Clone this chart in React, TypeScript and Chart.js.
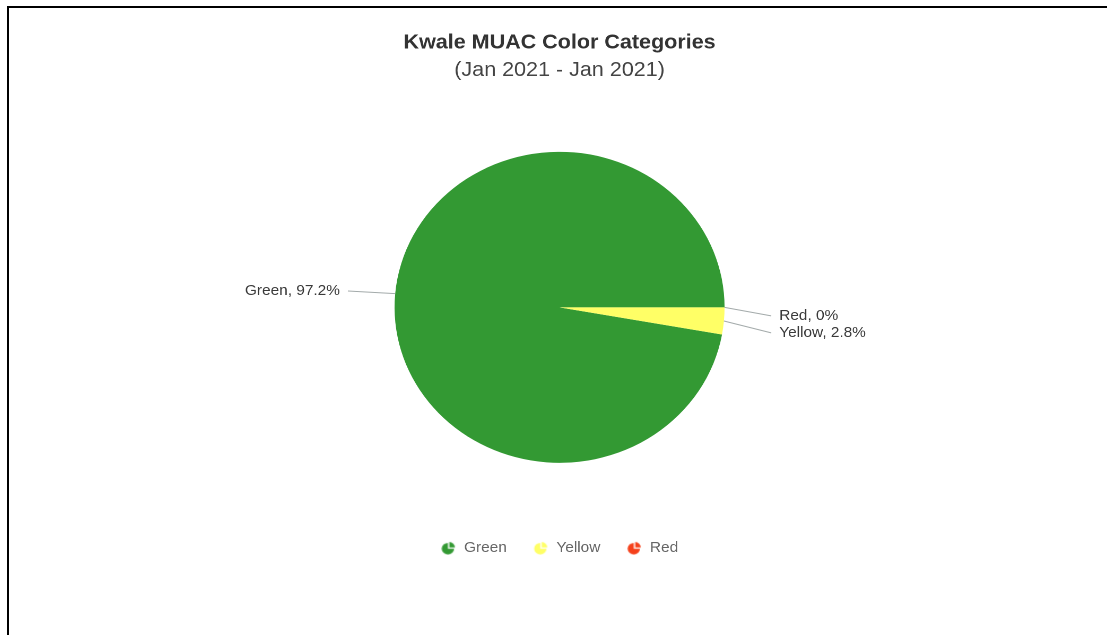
import React, { useEffect, useRef } from "react";
import { Chart, registerables } from "chart.js";

Chart.register(...registerables);

// ---- data ----
const categories: string[] = ["Green", "Red", "Yellow"];
const values: number[] = [97.2, 0, 2.8];
const sliceColors: string[] = ["#339933", "#F5401A", "#FFFF66"];
const legendOrder: string[] = ["Green", "Yellow", "Red"];
const titleText = "Kwale MUAC Color Categories";
const subtitleText = "(Jan 2021 - Jan 2021)";

// ---- presentation ----
const FONT = "'Liberation Sans', Arial, Helvetica, sans-serif";
const SX = 1.0611; // horizontal stretch of the reference picture
const CW = 1000;
const CH = 635;
const LEFT = 560 - (SX * CW) / 2;

function makeIcon(color: string): HTMLCanvasElement {
  const c = document.createElement("canvas");
  c.width = 14;
  c.height = 14;
  const ctx = c.getContext("2d")!;
  ctx.fillStyle = color;
  const cx = 6.3;
  const cy = 7.7;
  const r = 5.8;
  ctx.beginPath();
  ctx.moveTo(cx, cy);
  ctx.arc(cx, cy, r, 0, Math.PI * 1.5);
  ctx.closePath();
  ctx.fill();
  const ox = cx + 1.3;
  const oy = cy - 1.3;
  ctx.beginPath();
  ctx.moveTo(ox, oy);
  ctx.arc(ox, oy, r - 0.5, -Math.PI / 2, 0);
  ctx.closePath();
  ctx.fill();
  return c;
}

const LABEL_DIST = 30;
const CONNECTOR_LEN = 44;
const TEXT_GAP = 7.5;
const LABEL_GAP = 17;

const pieLabels = {
  id: "pieLabels",
  afterDatasetsDraw(chart: any) {
    const meta = chart.getDatasetMeta(0);
    const ctx: CanvasRenderingContext2D = chart.ctx;
    const data = chart.data.datasets[0].data as number[];
    const items = meta.data.map((arc: any, i: number) => {
      const p = arc.getProps(["x", "y", "startAngle", "endAngle", "outerRadius"], true);
      const mid = (p.startAngle + p.endAngle) / 2;
      const R = p.outerRadius;
      return {
        i,
        cx: p.x,
        cy: p.y,
        R,
        right: Math.cos(mid) >= -1e-9,
        ax: p.x + R * Math.cos(mid),
        ay: p.y + R * Math.sin(mid),
        ty: p.y + (R + LABEL_DIST) * Math.sin(mid),
        ly: 0,
        text: `${chart.data.labels[i]}, ${data[i]}%`,
      };
    });
    for (const side of [true, false]) {
      const group = items.filter((it: any) => it.right === side).sort((a: any, b: any) => a.ty - b.ty);
      let overlap = false;
      for (let k = 1; k < group.length; k++) {
        if (group[k].ty - group[k - 1].ty < LABEL_GAP) overlap = true;
      }
      let prev = -Infinity;
      for (const it of group) {
        if (overlap) {
          const y = Math.max(it.ty, prev + LABEL_GAP);
          prev = y;
          it.ly = y + LABEL_GAP / 2;
        } else {
          it.ly = it.ty;
        }
      }
    }
    ctx.save();
    for (const it of items) {
      const dir = it.right ? 1 : -1;
      const ex = it.cx + dir * (it.R + CONNECTOR_LEN);
      ctx.strokeStyle = "#a3aaaa";
      ctx.lineWidth = 1;
      ctx.beginPath();
      ctx.moveTo(it.ax, it.ay);
      ctx.lineTo(ex, it.ly);
      ctx.stroke();
      ctx.fillStyle = "#3a3a3a";
      ctx.font = `14.5px ${FONT}`;
      ctx.textBaseline = "middle";
      ctx.textAlign = it.right ? "left" : "right";
      ctx.fillText(it.text, ex + dir * TEXT_GAP, it.ly);
    }
    ctx.restore();
  },
};

export default function App() {
  const canvasRef = useRef<HTMLCanvasElement | null>(null);

  useEffect(() => {
    if (!canvasRef.current) return;
    const icons = sliceColors.map(makeIcon);
    const ov: any = (Chart as any).overrides;
    const baseGen =
      (ov.pie && ov.pie.plugins && ov.pie.plugins.legend && ov.pie.plugins.legend.labels.generateLabels) ||
      ov.doughnut.plugins.legend.labels.generateLabels;
    const total = values.reduce((a, b) => a + b, 0);
    const yellowIdx = categories.indexOf("Yellow");
    const rotation = 90 + (values[yellowIdx] / total) * 360;

    const chart = new Chart(canvasRef.current, {
      type: "pie",
      data: {
        labels: categories,
        datasets: [
          {
            data: values,
            backgroundColor: sliceColors,
            borderWidth: 0,
          },
        ],
      },
      options: {
        animation: false,
        responsive: false,
        maintainAspectRatio: false,
        devicePixelRatio: 2,
        rotation,
        radius: 155.5,
        layout: { padding: { top: 0, left: 0, right: 0, bottom: 69.75 } },
        events: [],
        plugins: {
          title: {
            display: true,
            text: titleText,
            color: "#333333",
            font: { family: FONT, size: 20.3, weight: "bold" },
            padding: { top: 30.5, bottom: 0 },
          },
          subtitle: {
            display: true,
            text: subtitleText,
            color: "#444444",
            font: { family: FONT, size: 20.3, weight: "normal" },
            padding: { top: 3.3, bottom: 16.4 },
          },
          legend: {
            position: "bottom",
            labels: {
              usePointStyle: true,
              padding: 25,
              color: "#666666",
              font: { family: FONT, size: 14.5 },
              generateLabels: (c: any) => {
                const items = baseGen(c);
                return items.map((it: any) => ({ ...it, pointStyle: icons[it.index], hidden: false }));
              },
              sort: (a: any, b: any) => legendOrder.indexOf(a.text) - legendOrder.indexOf(b.text),
            },
          },
          tooltip: { enabled: false },
        },
      } as any,
      plugins: [pieLabels],
    });
    return () => chart.destroy();
  }, []);

  return (
    <div
      style={{
        position: "fixed",
        left: 0,
        top: 0,
        width: 1107,
        height: 635,
        overflow: "hidden",
        background: "#ffffff",
      }}
    >
      <div
        style={{
          position: "absolute",
          left: 7,
          top: 6,
          width: 1200,
          height: 700,
          border: "2px solid #000000",
          boxSizing: "border-box",
        }}
      />
      <div
        style={{
          position: "absolute",
          left: LEFT,
          top: 0,
          width: CW,
          height: CH,
          transform: `scaleX(${SX})`,
          transformOrigin: "0 0",
        }}
      >
        <canvas ref={canvasRef} width={CW} height={CH} style={{ width: CW, height: CH, display: "block" }} />
      </div>
    </div>
  );
}
